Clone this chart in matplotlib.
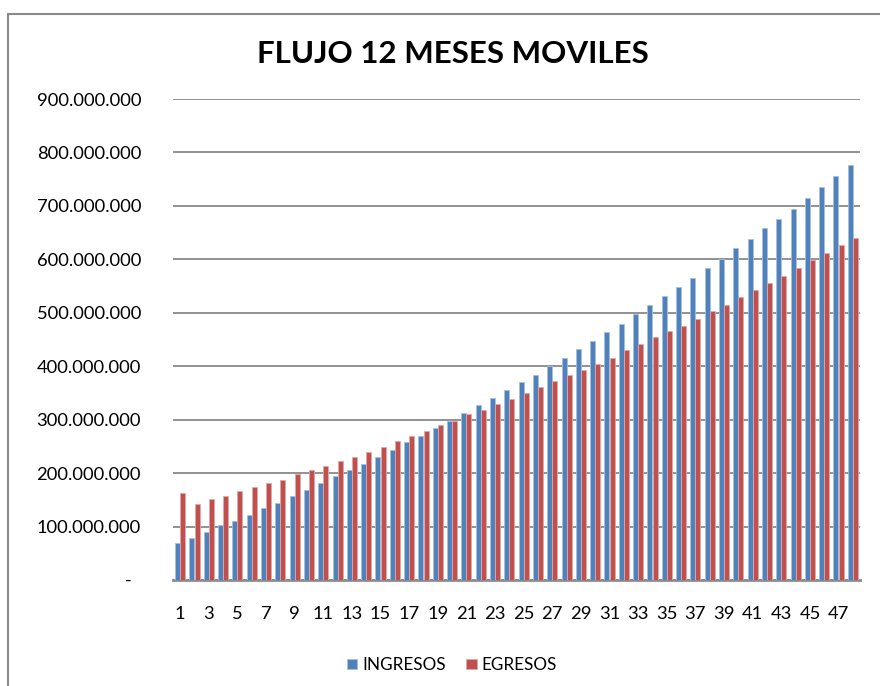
import matplotlib
matplotlib.use("Agg")
import matplotlib.pyplot as plt
import numpy as np
from matplotlib.patches import Rectangle
from matplotlib.ticker import FuncFormatter

plt.rcParams['font.family'] = ['Lato', 'DejaVu Sans']

categories = list(range(1, 49))
ingresos = [70, 78, 90, 102, 111, 122, 134, 145, 157, 168, 182, 194, 205, 217, 231, 243,
            258, 270, 284, 298, 313, 327, 341, 356, 370, 384, 400, 416, 433, 447, 464, 479,
            497, 514, 531, 548, 566, 583, 600, 621, 638, 658, 675, 695, 715, 735, 755, 776]
egresos = [162, 142, 151, 157, 166, 174, 182, 188, 198, 206, 213, 222, 231, 240, 248, 260,
           270, 278, 290, 298, 310, 318, 330, 338, 350, 361, 373, 384, 393, 404, 416, 430,
           442, 454, 465, 476, 488, 503, 515, 529, 543, 555, 569, 583, 598, 612, 626, 640]
ingresos = [v * 1e6 for v in ingresos]
egresos = [v * 1e6 for v in egresos]
yticks = [i * 1e8 for i in range(10)]

fig = plt.figure(figsize=(8.8, 6.86), dpi=100)
ax = fig.add_axes([173/880, 1-580/686, (860-173)/880, (580-99)/686])

x = np.arange(len(categories))
w = 0.35
blue = '#4F81BD'
red = '#C0504D'
ax.bar(x - 0.18, ingresos, width=w, color=blue, edgecolor='#A7C0DE', linewidth=0.6, label='INGRESOS', zorder=3)
ax.bar(x + 0.18, egresos, width=w, color=red, edgecolor='#E0A9A7', linewidth=0.6, label='EGRESOS', zorder=3)

ax.set_xlim(-0.5, len(categories) - 0.5)
ax.set_ylim(0, 9e8)
ax.set_yticks(yticks)

def fmt(v, pos):
    if v == 0:
        return '-  '
    return f"{int(round(v)):,}".replace(',', '.')
ax.yaxis.set_major_formatter(FuncFormatter(fmt))
ax.set_xticks(x[::2])
ax.set_xticklabels([str(c) for c in categories[::2]])

ax.grid(axis='y', color='#929292', linewidth=1.4, zorder=0)
for s in ['top', 'right', 'left']:
    ax.spines[s].set_visible(False)
ax.spines['bottom'].set_color('#8C8C8C')
ax.spines['bottom'].set_linewidth(2)
ax.tick_params(axis='both', length=0, labelsize=13.2, colors='black')
ax.tick_params(axis='y', pad=23)
ax.tick_params(axis='x', pad=19)

fig.text(453/880, 1-54/686, 'FLUJO 12 MESES MOVILES', ha='center', va='center',
         fontsize=22.5, fontweight='bold')

ax.legend(loc='center', bbox_to_anchor=(452/880, 1-665/686), bbox_transform=fig.transFigure,
          ncol=2, frameon=False, fontsize=12.3, handlelength=0.6, handleheight=0.6,
          handletextpad=0.3, columnspacing=1.2)

fig.patches.append(Rectangle((8/880, -0.1), 1.2, 1.1 - 14/686, transform=fig.transFigure,
                             fill=False, edgecolor='#8A8A8A', linewidth=1.5))

fig.savefig('out.png', dpi=100)
